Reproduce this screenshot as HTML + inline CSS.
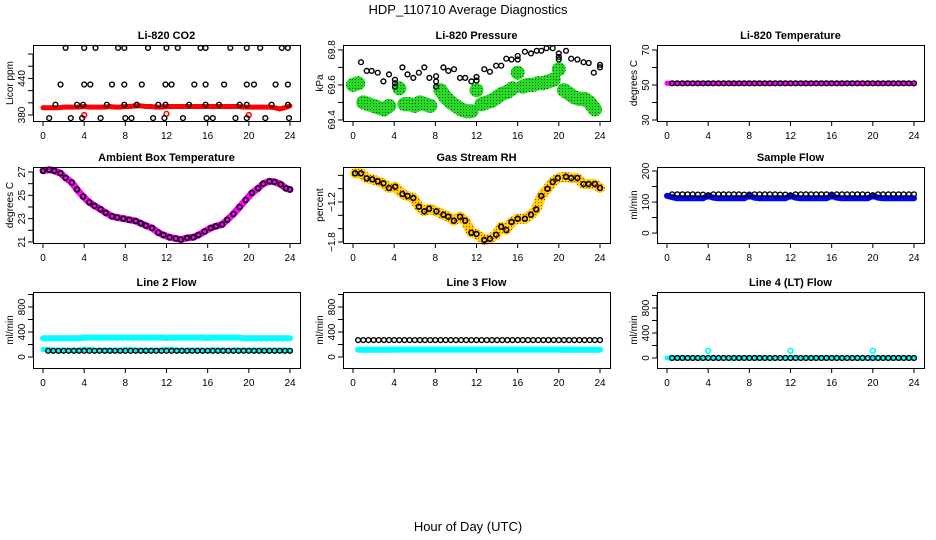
<!DOCTYPE html>
<html><head><meta charset="utf-8"><style>
html,body{margin:0;padding:0;background:#fff;width:936px;height:540px;overflow:hidden}
svg text{font-family:"Liberation Sans",Arial,sans-serif;fill:#000}
</style></head><body>
<svg id="chart" width="936" height="540" viewBox="0 0 936 540" xmlns="http://www.w3.org/2000/svg">
<defs>
<pattern id="greenSpeck" width="3" height="3" patternUnits="userSpaceOnUse"><rect width="3" height="3" fill="#22dd22"/><rect x="1" y="1" width="1" height="1" fill="#114411"/></pattern>
<pattern id="yellowSpeck" width="3" height="3" patternUnits="userSpaceOnUse"><rect width="3" height="3" fill="#ffcc00"/><rect x="1" y="1" width="1" height="1" fill="#ee2200"/><rect x="0" y="0" width="1" height="1" fill="#ffee00"/></pattern>
</defs>
<text x="468" y="14" text-anchor="middle" font-size="13">HDP_110710  Average Diagnostics</text>
<text x="468" y="531" text-anchor="middle" font-size="13">Hour of Day (UTC)</text>
</svg>
<script>
// ---------- shared data ----------
const xTicks = [0,4,8,12,16,20,24];
const circT = [0.5,1,1.5,2,2.5,3,3.5,4,4.5,5,5.5,6,6.5,7,7.5,8,8.5,9,9.5,10,10.5,11,11.5,12,12.5,13,13.5,14,14.5,15,15.5,16,16.5,17,17.5,18,18.5,19,19.5,20,20.5,21,21.5,22,22.5,23,23.5,24];
const bandT = [0,0.5,1,1.5,2,2.5,3,3.5,4,4.5,5,5.5,6,6.5,7,7.5,8,8.5,9,9.5,10,10.5,11,11.5,12,12.5,13,13.5,14,14.5,15,15.5,16,16.5,17,17.5,18,18.5,19,19.5,20,20.5,21,21.5,22,22.5,23,23.5,24];

// CO2
const co2T = [2.2,4.0,5.1,7.3,7.9,10.2,12.0,13.1,15.3,15.8,18.2,19.8,21.1,23.2,23.8, 1.7,4.0,4.6,6.7,7.9,9.6,11.9,12.5,14.7,15.8,17.6,19.8,20.5,22.6,23.8, 1.2,3.3,3.9,6.2,7.9,9.1,11.2,11.9,14.2,15.8,17.1,19.1,19.8,22.2,23.8, 0.6,2.7,3.8,5.6,8.0,8.6,10.7,11.8,13.6,15.9,16.5,18.7,19.8,21.6,23.9];
const co2V = [490,490,490,490,490,490,490,490,490,490,490,490,490,490,490, 430,430,430,430,430,430,430,430,430,430,430,430,430,430,430, 397,397,397,397,397,397,397,397,397,397,397,397,397,397,397, 375,375,375,375,375,375,375,375,375,375,375,375,375,375,375];
const co2BandV = [392,392,392,392,393,393,393,393,394,393,393,393,393,394,393,393,394,394,395,395,394,394,393,393,394,394,394,394,394,394,394,394,394,394,394,394,394,394,394,393,393,393,393,393,393,392,390,392,395];
const co2RedT = [4.0,12.0,20.0];
const co2RedV = [380,382,380];

// Pressure
const presT = [0.78,1.33,1.81,2.4,2.95,3.5,4.08,4.08,4.08,4.8,5.3,5.86,6.4,6.93,7.42,8.07,8.07,8.07,8.78,9.26,9.81,10.4,10.9,11.5,12.0,12.0,12.76,13.3,13.9,14.4,14.9,15.4,16.0,16.0,16.7,17.3,17.85,18.3,18.8,19.4,20.0,20.0,20.0,20.7,21.2,21.8,22.4,22.9,23.4,24.0,24.0];
const presV = [69.73,69.68,69.68,69.67,69.62,69.66,69.63,69.61,69.59,69.70,69.66,69.64,69.67,69.70,69.64,69.65,69.62,69.59,69.70,69.68,69.69,69.64,69.64,69.62,69.645,69.625,69.69,69.675,69.71,69.71,69.75,69.745,69.765,69.745,69.79,69.78,69.795,69.795,69.81,69.81,69.78,69.76,69.745,69.795,69.75,69.745,69.73,69.725,69.67,69.715,69.70];
const presGreenV = [69.60,69.61,69.50,69.49,69.48,69.47,69.46,69.48,null,69.58,69.49,69.49,69.48,69.50,69.49,69.48,null,69.57,69.53,69.50,69.48,69.46,69.45,69.45,69.57,69.49,69.50,69.51,69.53,69.55,69.56,69.58,69.67,69.59,69.60,69.60,69.61,69.61,69.62,69.63,69.69,69.57,69.55,69.53,69.52,69.52,69.50,69.46,null];

// Li-820 temperature
const tempBandV = [51,51,51,51,51,51,51,51,51,51,51,51,51,51,51,51,51,51,51,51,51,51,51,51,51,51,51,51,51,51,51,51,51,51,51,51,51,51,51,51,51,51,51,51,51,51,51,51,51];
const tempCircV = [51,51,51,51,51,51,51,51,51,51,51,51,51,51,51,51,51,51,51,51,51,51,51,51,51,51,51,51,51,51,51,51,51,51,51,51,51,51,51,51,51,51,51,51,51,51,51,51];

// Ambient box temperature
const ambT = [0,0.6,1.1,1.7,2.2,2.8,3.3,3.9,4.5,5.0,5.6,6.1,6.7,7.2,7.8,8.4,9.0,9.5,10.0,10.6,11.2,11.7,12.3,12.9,13.4,14.0,14.6,15.1,15.7,16.3,16.8,17.4,17.9,18.5,19.1,19.7,20.3,20.9,21.4,22.0,22.5,23.1,23.6,24.0];
const ambV = [27.1,27.2,27.1,26.9,26.5,26.1,25.5,24.9,24.4,24.1,23.8,23.5,23.2,23.1,23.0,22.9,22.8,22.6,22.4,22.2,21.8,21.6,21.4,21.3,21.2,21.35,21.4,21.6,21.9,22.2,22.35,22.5,22.9,23.4,24.0,24.6,25.2,25.6,26.0,26.2,26.15,25.95,25.6,25.5];

// Gas stream RH
const rhT = [0.2,0.78,1.33,1.88,2.4,2.95,3.5,4.1,4.8,5.3,5.86,6.4,6.93,7.4,8.1,8.78,9.26,9.8,10.4,10.9,11.5,12.0,12.76,13.3,13.9,14.4,14.9,15.4,16.0,16.7,17.3,17.8,18.3,18.9,19.4,19.9,20.7,21.2,21.8,22.4,22.9,23.5,24.0];
const rhV = [-0.77,-0.77,-0.845,-0.86,-0.89,-0.92,-0.99,-0.97,-1.08,-1.11,-1.14,-1.27,-1.34,-1.30,-1.34,-1.39,-1.42,-1.48,-1.42,-1.48,-1.66,-1.68,-1.77,-1.75,-1.69,-1.57,-1.62,-1.50,-1.45,-1.45,-1.39,-1.31,-1.11,-1.0,-0.90,-0.84,-0.82,-0.84,-0.84,-0.93,-0.93,-0.93,-0.99];

// Sample flow
const sampBlueV = [120,116,112,112,112,112,112,112,120,114,112,112,112,112,112,112,120,114,112,112,112,112,112,112,120,114,112,112,112,112,112,112,120,114,112,112,112,112,112,112,120,114,112,112,112,112,112,112,112];
const sampCircV = [125,125,125,125,125,124,124,122,125,125,125,125,125,125,124,124,125,125,125,125,125,124,124,122,125,125,125,125,125,125,125,124,125,125,125,125,125,125,124,122,125,125,125,125,125,125,125,125];

// Line flows
const l2CyanV = [300,300,300,300,300,300,300,300,310,310,310,310,310,310,310,310,310,310,310,310,310,310,310,310,305,310,310,310,310,310,310,310,305,310,310,310,310,310,310,300,300,300,300,300,300,300,300,300,300];
const l2LowV = [120,120,110,110,110,110,110,110,120,120,110,110,110,110,110,110,120,120,110,110,110,110,110,110,120,120,110,110,110,110,110,110,110,115,110,110,110,110,110,110,110,110,110,110,110,110,110,110,110];
const l2CircV = [100,100,100,100,100,100,100,100,100,100,100,100,100,100,100,100,100,100,100,100,100,100,100,100,100,100,100,100,100,100,100,100,100,100,100,100,100,100,100,100,100,100,100,100,100,100,100,100];
const l3CyanV = [270,115,115,115,115,115,115,115,115,118,118,118,118,118,118,118,118,118,118,118,118,118,118,118,118,118,118,118,118,118,118,118,118,118,118,118,118,118,118,118,118,115,115,115,115,115,115,115,115];
const l3CircV = [270,270,270,270,270,270,270,270,270,270,270,270,270,270,270,270,270,270,270,270,270,270,270,270,270,270,270,270,270,270,270,270,270,270,270,270,270,270,270,270,270,270,270,270,270,270,270,270];
const l4CyanV = [0,0,0,0,0,0,0,0,0,0,0,0,0,0,0,0,0,0,0,0,0,0,0,0,0,0,0,0,0,0,0,0,0,0,0,0,0,0,0,0,0,0,0,0,0,0,0,0,0];
const l4SpikeT = [4,12,20];
const l4SpikeV = [115,115,115];
const l4CircV = [0,0,0,0,0,0,0,0,0,0,0,0,0,0,0,0,0,0,0,0,0,0,0,0,0,0,0,0,0,0,0,0,0,0,0,0,0,0,0,0,0,0,0,0,0,0,0,0];

// ---------- layout ----------
const svg = document.getElementById('chart');
const NS = 'http://www.w3.org/2000/svg';
const colX0 = [43,353,667], rowTop = [45,167,292], BOXH = 76, XSPAN = 247;
function mk(tag, attrs, parent){const e=document.createElementNS(NS,tag);for(const k in attrs)e.setAttribute(k,attrs[k]);(parent||svg).appendChild(e);return e;}

const panels = [
 {key:'co2',title:'Li-820 CO2',ylab:'Licor ppm',c:0,r:0,ylim:[370.2,494.8],ticks:[380,400,420,440,460,480],labels:[380,440]},
 {key:'pressure',title:'Li-820 Pressure',ylab:'kPa',c:1,r:0,ylim:[69.394,69.828],ticks:[69.4,69.5,69.6,69.7,69.8],labels:[69.4,69.6,69.8]},
 {key:'li-temp',title:'Li-820 Temperature',ylab:'degrees C',c:2,r:0,ylim:[29.43,72.86],ticks:[30,40,50,60,70],labels:[30,50,70]},
 {key:'ambient',title:'Ambient Box Temperature',ylab:'degrees C',c:0,r:1,ylim:[20.91,27.43],ticks:[21,22,23,24,25,26,27],labels:[21,23,25,27]},
 {key:'rh',title:'Gas Stream RH',ylab:'percent',c:1,r:1,ylim:[-1.815,-0.675],ticks:[-1.8,-1.6,-1.4,-1.2,-1.0,-0.8],labels:[-1.8,-1.2]},
 {key:'sample',title:'Sample Flow',ylab:'ml/min',c:2,r:1,ylim:[-32,213],ticks:[0,50,100,150,200],labels:[0,100,200]},
 {key:'line2',title:'Line 2 Flow',ylab:'ml/min',c:0,r:2,ylim:[-176,1040],ticks:[0,200,400,600,800,1000],labels:[0,400,800]},
 {key:'line3',title:'Line 3 Flow',ylab:'ml/min',c:1,r:2,ylim:[-176,1040],ticks:[0,200,400,600,800,1000],labels:[0,400,800]},
 {key:'line4',title:'Line 4 (LT) Flow',ylab:'ml/min',c:2,r:2,ylim:[-160,1056],ticks:[0,200,400,600,800,1000],labels:[0,400,800]}
];
function sx(p,t){return colX0[p.c]+t/24*XSPAN;}
function sy(p,v){const top=rowTop[p.r],b=top+BOXH;return b-(v-p.ylim[0])/(p.ylim[1]-p.ylim[0])*BOXH;}

function band(p,g,ts,vs,color,w,maxJump){
  let pts=[];
  const flush=()=>{ if(pts.length){
      const pl=mk('polyline',{points:pts.join(' '),fill:'none',stroke:color,'stroke-width':w,'stroke-linecap':'round','stroke-linejoin':'round'},g);
      
      
    } pts=[]; };
  for(let i=0;i<ts.length;i++){
    const v=vs[i];
    if(v===null||v===undefined){flush();continue;}
    if(maxJump && i>0 && vs[i-1]!==null && Math.abs(v-vs[i-1])>maxJump) flush();
    pts.push(sx(p,ts[i]).toFixed(1)+','+sy(p,v).toFixed(1));
  }
  flush();
}
function circles(p,g,ts,vs,color,r,sw,name,fill){
  for(let i=0;i<ts.length;i++){
    if(vs[i]===null) continue;
    const c=mk('circle',{cx:sx(p,ts[i]).toFixed(1),cy:sy(p,vs[i]).toFixed(1),r:r,fill:fill||'none',stroke:color,'stroke-width':sw},g);
    
    
  }
}

panels.forEach(p=>{
  const g=mk('g',{});
  
  
  const L=colX0[p.c]-10, T=rowTop[p.r], W=XSPAN+20, B=T+BOXH;
  const t=mk('text',{x:L+W/2,y:T-6,'text-anchor':'middle','font-size':'11','font-weight':'bold'},g);
  t.textContent=p.title;
  
  
  xTicks.forEach(v=>{
    const x=sx(p,v);
    mk('line',{x1:x,y1:B,x2:x,y2:B+5,stroke:'#000','stroke-width':1},g);
    const lt=mk('text',{x:x,y:B+18,'text-anchor':'middle','font-size':'10'},g);
    lt.textContent=v;
    
    
  });
  mk('line',{x1:L,y1:sy(p,p.ticks[0]),x2:L,y2:sy(p,p.ticks[p.ticks.length-1]),stroke:'#000','stroke-width':1},g);
  p.ticks.forEach(v=>{const y=sy(p,v);mk('line',{x1:L-5,y1:y,x2:L,y2:y,stroke:'#000','stroke-width':1},g);});
  p.labels.forEach(v=>{
    const y=sy(p,v);
    const lt=mk('text',{x:L-8,y:y,'text-anchor':'middle','font-size':'10',transform:'rotate(-90 '+(L-8)+' '+y+')'},g);
    lt.textContent=(v<0?'\u2212'+Math.abs(v):String(v));
    
    
  });
  const yl=mk('text',{x:L-20,y:T+BOXH/2,'text-anchor':'middle','font-size':'10',transform:'rotate(-90 '+(L-20)+' '+(T+BOXH/2)+')'},g);
  yl.textContent=p.ylab;
  
  
  p.g=g; p.box=[L,T,W,BOXH];
});
const P={};panels.forEach(p=>P[p.key]=p);

band(P.co2,P.co2.g,bandT,co2BandV,'#ff0000',5);
circles(P.co2,P.co2.g,co2RedT,co2RedV,'#ff0000',2.4,1.5,'co2-red-point');
circles(P.co2,P.co2.g,co2T,co2V,'#000',2.4,1.4,'co2-point');

band(P.pressure,P.pressure.g,bandT,presGreenV,'url(#greenSpeck)',14,0.05);
circles(P.pressure,P.pressure.g,bandT,presGreenV,'url(#greenSpeck)',6,2,'pressure-green-blob','url(#greenSpeck)');
circles(P.pressure,P.pressure.g,presT,presV,'#000',2.4,1.4,'pressure-point');

band(P['li-temp'],P['li-temp'].g,bandT,tempBandV,'#ff00ff',5);
circles(P['li-temp'],P['li-temp'].g,circT,tempCircV,'#000',2.4,1.4,'li-temp-point');

band(P.ambient,P.ambient.g,ambT,ambV,'#ff00ff',7);
circles(P.ambient,P.ambient.g,ambT,ambV,'#000',2.4,1.6,'ambient-point');

band(P.rh,P.rh.g,rhT,rhV,'url(#yellowSpeck)',10);
circles(P.rh,P.rh.g,rhT,rhV,'#000',2.4,1.6,'rh-point');

band(P.sample,P.sample.g,bandT,sampBlueV,'#0000ff',6);
circles(P.sample,P.sample.g,circT,sampCircV,'#000',2.4,1.4,'sample-point');

band(P.line2,P.line2.g,bandT,l2CyanV,'#00ffff',6);
band(P.line2,P.line2.g,bandT,l2LowV,'#00ffff',5);
circles(P.line2,P.line2.g,circT,l2CircV,'#000',2.4,1.4,'line2-point');

band(P.line3,P.line3.g,bandT,l3CyanV,'#00ffff',6,100);
circles(P.line3,P.line3.g,circT,l3CircV,'#000',2.4,1.4,'line3-point');

band(P.line4,P.line4.g,bandT,l4CyanV,'#00ffff',5);
circles(P.line4,P.line4.g,l4SpikeT,l4SpikeV,'#00ffff',2.4,1.6,'line4-spike-point');
circles(P.line4,P.line4.g,circT,l4CircV,'#000',2.4,1.4,'line4-point');

panels.forEach(p=>{
  const [L,T,W,H]=p.box;
  const r=mk('rect',{x:L+0.5,y:T+0.5,width:W,height:H,fill:'none',stroke:'#000','stroke-width':1},p.g);
  
  
});
</script>
</body></html>
